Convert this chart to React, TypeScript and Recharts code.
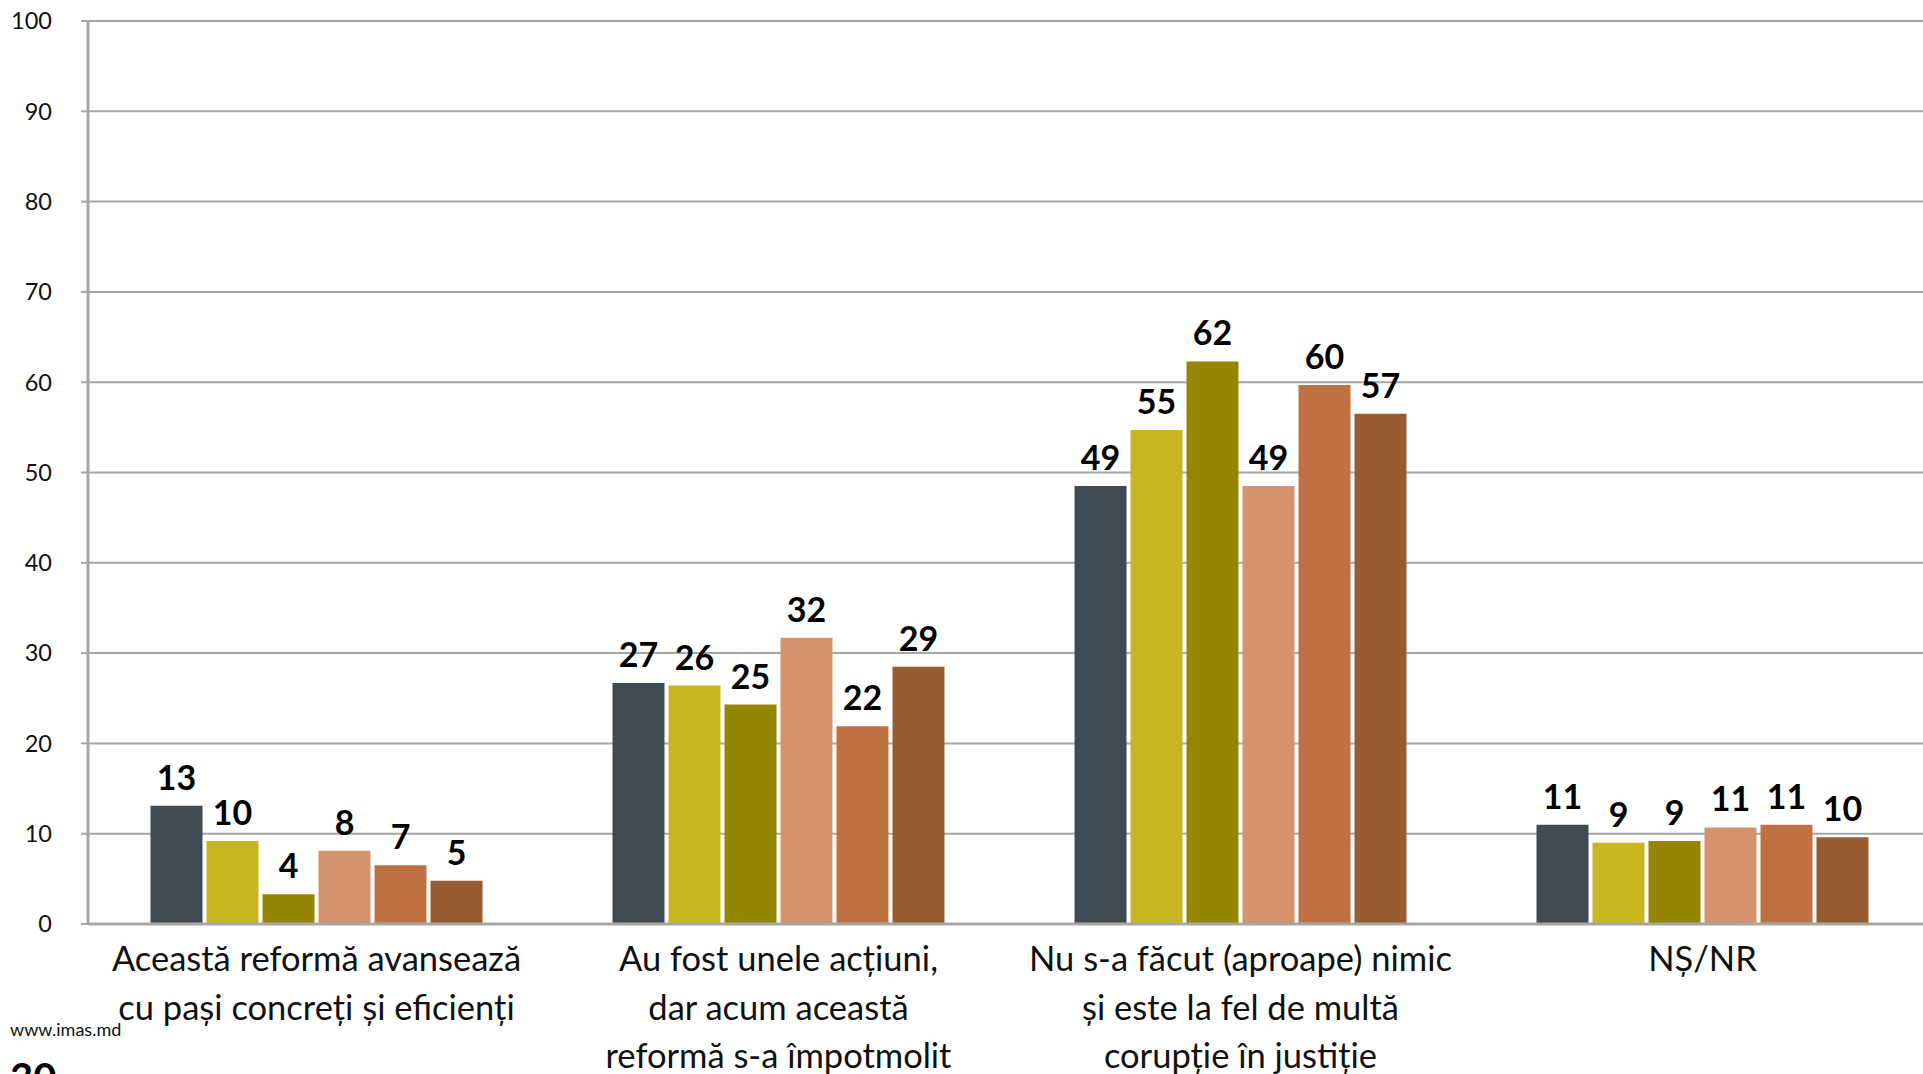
import React from "react";
import { BarChart, Bar, XAxis, YAxis, CartesianGrid, LabelList } from "recharts";

const categories = ["c1", "c2", "c3", "c4"];
const categoryLines = [
  ["Această reformă avansează", "cu pași concreți și eficienți"],
  ["Au fost unele acțiuni,", "dar acum această", "reformă s-a împotmolit"],
  ["Nu s-a făcut (aproape) nimic", "și este la fel de multă", "corupție în justiție"],
  ["NȘ/NR"],
];

const series1 = [13.1, 26.7, 48.5, 11.0];
const series2 = [9.2, 26.4, 54.7, 9.0];
const series3 = [3.3, 24.3, 62.3, 9.2];
const series4 = [8.1, 31.7, 48.5, 10.7];
const series5 = [6.5, 21.9, 59.7, 11.0];
const series6 = [4.8, 28.5, 56.5, 9.6];

const labels1 = [13, 27, 49, 11];
const labels2 = [10, 26, 55, 9];
const labels3 = [4, 25, 62, 9];
const labels4 = [8, 32, 49, 11];
const labels5 = [7, 22, 60, 11];
const labels6 = [5, 29, 57, 10];

const yTicks = [0, 10, 20, 30, 40, 50, 60, 70, 80, 90, 100];

const colors = ["#3E4A54", "#C9B520", "#948600", "#D4926D", "#BE7242", "#985C33"];

const allSeries = [series1, series2, series3, series4, series5, series6];
const allLabels = [labels1, labels2, labels3, labels4, labels5, labels6];

const data = categories.map((c, i) => {
  const row: any = { name: c, idx: i };
  allSeries.forEach((s, k) => {
    row["v" + k] = s[i];
    row["l" + k] = allLabels[k][i];
  });
  return row;
});

const FONT = "Lato, 'Open Sans', sans-serif";

const CategoryTick = (props: any) => {
  const { x, y, payload } = props;
  const idx = categories.indexOf(payload.value);
  const lines = categoryLines[idx] || [];
  return (
    <g>
      {lines.map((ln, j) => (
        <text
          key={j}
          x={x}
          y={y + 47 + j * 48.5}
          textAnchor="middle"
          fontFamily={FONT}
          fontSize={34.5}
          fill="#111"
        >
          {ln}
        </text>
      ))}
    </g>
  );
};

export default function App() {
  return (
    <div style={{ position: "absolute", left: 0, top: 0, width: 1923, height: 1074, overflow: "hidden", background: "#fff" }}>
      <BarChart
        width={1936}
        height={1074}
        data={data}
        margin={{ top: 21, right: 0, bottom: 0, left: 0 }}
        barCategoryGap={65}
        barGap={4}
      >
        <CartesianGrid vertical={false} stroke="#A6A6A6" strokeWidth={2} />
        <XAxis
          dataKey="name"
          height={150}
          tickLine={false}
          tickSize={0}
          tickMargin={0}
          padding={{ left: -2.5, right: 2.5 }}
          axisLine={{ stroke: "#A6A6A6", strokeWidth: 3 }}
          tick={<CategoryTick />}
          interval={0}
        />
        <YAxis
          width={88}
          domain={[0, 100]}
          ticks={yTicks}
          interval={0}
          tickSize={7}
          tickMargin={29}
          axisLine={{ stroke: "#A6A6A6", strokeWidth: 3 }}
          tickLine={{ stroke: "#A6A6A6", strokeWidth: 2 }}
          tick={{ fill: "#111", fontSize: 23.5, fontFamily: FONT }}
        />
        {colors.map((col, k) => (
          <Bar key={k} dataKey={"v" + k} fill={col} isAnimationActive={false}>
            <LabelList
              dataKey={"l" + k}
              position="top"
              offset={16}
              fill="#000"
              fontSize={34}
              fontWeight={700}
              fontFamily={FONT}
            />
          </Bar>
        ))}
      </BarChart>
      <div style={{ position: "absolute", left: 10, top: 1018, fontFamily: FONT, fontSize: 18, color: "#111" }}>
        www.imas.md
      </div>
      <div style={{ position: "absolute", left: 10, top: 1054, fontFamily: FONT, fontSize: 40, fontWeight: 700, color: "#000", lineHeight: "46px" }}>
        30
      </div>
    </div>
  );
}
